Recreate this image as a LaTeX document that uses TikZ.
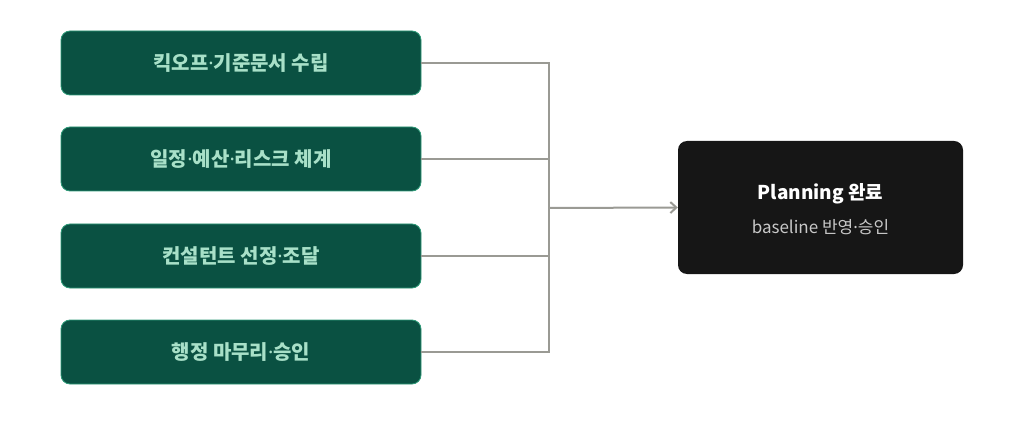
\documentclass[tikz,border=0pt]{standalone}
\usepackage{fontspec}
\setmainfont{Noto Sans CJK KR}
\newfontfamily\dotfont{Noto Sans}
\usepackage{tikz}
\usetikzlibrary{arrows.meta}
\definecolor{stepgreen}{HTML}{0A5142}
\definecolor{stepedge}{HTML}{2E9A78}
\definecolor{steptext}{HTML}{A8E0C8}
\definecolor{donebg}{HTML}{161616}
\definecolor{subgray}{HTML}{C8C8C8}
\definecolor{linkgray}{HTML}{9A9A94}
\newcommand{\md}{{\dotfont\bfseries ·}}
\tikzstyle{stepbox}=[rectangle, rounded corners=9pt, draw=stepedge, line width=0.8pt, fill=stepgreen, minimum width=360pt, minimum height=64pt, inner sep=0pt, text=steptext, font=\fontsize{20pt}{24pt}\selectfont\bfseries]
\tikzstyle{donebox}=[rectangle, rounded corners=9pt, fill=donebg, minimum width=285pt, minimum height=133pt, inner sep=0pt]
\tikzstyle{link}=[draw=linkgray, line width=2pt]

\begin{document}
\begin{tikzpicture}[x=1pt, y=-1pt]
    \useasboundingbox (0,0) rectangle (1024,446);

    % the four planning steps, using a loop
    \foreach \name/\y/\txt in {s1/63/킥오프\md 기준문서 수립, s2/159/일정\md 예산\md 리스크 체계,
                              s3/256/컨설턴트 선정\md 조달, s4/352/행정 마무리\md 승인}
    \node[stepbox] (\name) at (241,\y) {\txt};

    % the result box
    \node[donebox] (done) at (820.5,207.5) {};
    \node[text=white, font=\fontsize{19pt}{22pt}\selectfont\bfseries] (donetitle) at (820.5,194) {Planning 완료};
    \node[text=subgray, font=\fontsize{17pt}{20pt}\selectfont] (donesub) at (820.5,227) {baseline 반영{\dotfont ·}승인};

    % bracket joining the steps
    \coordinate (join) at (549,208);
    \draw[link] (s1.east) -| (join) |- (s4.east);
    \draw[link] (s2.east) -- (s2.east -| join);
    \draw[link] (s3.east) -- (s3.east -| join);
    \draw[link, -{Straight Barb[length=6pt, width=11pt]}] (join) -- (done.west);
\end{tikzpicture}
\end{document}
